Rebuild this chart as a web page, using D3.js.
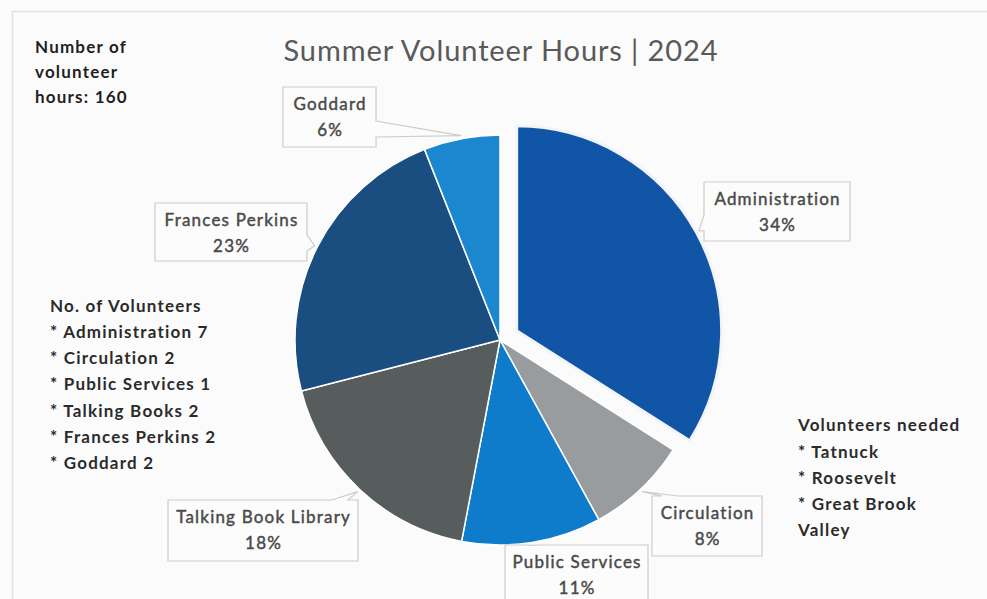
<!DOCTYPE html>
<html>
<head>
<meta charset="utf-8">
<script src="https://cdn.jsdelivr.net/npm/d3@7"></script>
<style>
  html, body { margin: 0; padding: 0; background: #fbfbfb; }
  svg { display: block; }
  text { font-family: Lato, "Open Sans", sans-serif; }
</style>
</head>
<body>
<svg id="chart" width="987" height="599"></svg>
<script>
// Share of summer volunteer hours by location (percent)
const categories = ["Administration", "Circulation", "Public Services", "Talking Book Library", "Frances Perkins", "Goddard"];
const percentages = [34, 8, 11, 18, 23, 6];
const colors = ["#1155a6", "#999c9f", "#0f7bcb", "#575c5d", "#1a4d80", "#1a87cf"];
const explodedCategory = "Administration";

const titleText = "Summer Volunteer Hours | 2024";
const totalHoursLines = ["Number of", "volunteer", "hours: 160"];
const volunteerCountHeading = "No. of Volunteers";
const volunteerCountNames = ["Administration", "Circulation", "Public Services", "Talking Books", "Frances Perkins", "Goddard"];
const volunteerCounts = [7, 2, 1, 2, 2, 2];
const neededHeading = "Volunteers needed";
const neededLines = ["* Tatnuck", "* Roosevelt", "* Great Brook", "Valley"];

// Callout box placement for each slice label
const calloutLayout = {
  "Administration":       { x: 704, y: 182, w: 146, h: 59, side: "left" },
  "Circulation":          { x: 652, y: 496, w: 110, h: 60, side: "top" },
  "Public Services":      { x: 505, y: 545, w: 143, h: 62, side: "top" },
  "Talking Book Library": { x: 168, y: 500, w: 190, h: 61, side: "top" },
  "Frances Perkins":      { x: 155, y: 203, w: 152, h: 58, side: "right" },
  "Goddard":              { x: 283, y: 87,  w: 93,  h: 60, side: "right" }
};

const svg = d3.select("#chart");
const W = 987, H = 599;

// frame lines
svg.append("line").attr("x1", 12.5).attr("x2", 12.5).attr("y1", 11).attr("y2", H)
  .attr("stroke", "#e0e0e0").attr("stroke-width", 1.5);
svg.append("line").attr("x1", 12).attr("x2", W).attr("y1", 11.5).attr("y2", 11.5)
  .attr("stroke", "#e0e0e0").attr("stroke-width", 1.5);

// title
svg.append("text").attr("x", 501).attr("y", 61).attr("text-anchor", "middle")
  .attr("font-size", 29).attr("letter-spacing", 0.9).attr("fill", "#595959").text(titleText);

// pie
const cx = 500, cy = 340, r = 205, explodeDist = 19;
const data = categories.map((c, i) => ({ name: c, value: percentages[i], color: colors[i] }));
const pie = d3.pie().sort(null).value(d => d.value).startAngle(0).endAngle(2 * Math.PI);
const arcs = pie(data);
const arc = d3.arc().innerRadius(0).outerRadius(r);

const g = svg.append("g").attr("transform", `translate(${cx},${cy})`);

function offsetOf(a) {
  if (a.data.name !== explodedCategory) return [0, 0];
  const mid = (a.startAngle + a.endAngle) / 2;
  return [Math.sin(mid) * explodeDist, -Math.cos(mid) * explodeDist];
}

g.selectAll("path.slice").data(arcs).join("path")
  .attr("class", "slice")
  .attr("d", arc)
  .attr("transform", a => `translate(${offsetOf(a)})`)
  .attr("fill", a => a.data.color)
  .attr("stroke", a => a.data.name === explodedCategory ? "#f2f4f8" : "#ffffff")
  .attr("stroke-width", a => a.data.name === explodedCategory ? 3 : 1.5)
  .attr("stroke-linejoin", "round");

// callouts
function calloutPath(b, ax, ay) {
  const x0 = b.x, y0 = b.y, x1 = b.x + b.w, y1 = b.y + b.h;
  const half = 8, m = 10;
  const clamp = (v, lo, hi) => Math.max(lo, Math.min(hi, v));
  let p = [];
  if (b.side === "top") {
    const c = clamp(ax, x0 + m + half, x1 - m - half);
    p = [[x0, y0], [c - half, y0], [ax, ay], [c + half, y0], [x1, y0], [x1, y1], [x0, y1]];
  } else if (b.side === "right") {
    const c = clamp(ay, y0 + m + half, y1 - m - half);
    p = [[x0, y0], [x1, y0], [x1, c - half], [ax, ay], [x1, c + half], [x1, y1], [x0, y1]];
  } else if (b.side === "left") {
    const c = clamp(ay, y0 + m + half, y1 - m - half);
    p = [[x0, y0], [x1, y0], [x1, y1], [x0, y1], [x0, c + half], [ax, ay], [x0, c - half]];
  } else {
    const c = clamp(ax, x0 + m + half, x1 - m - half);
    p = [[x0, y0], [x1, y0], [x1, y1], [c + half, y1], [ax, ay], [c - half, y1], [x0, y1]];
  }
  return "M" + p.map(q => q.map(v => v.toFixed(1)).join(",")).join("L") + "Z";
}

const calloutG = svg.append("g");
arcs.forEach(a => {
  const b = calloutLayout[a.data.name];
  const off = offsetOf(a);
  const mid = (a.startAngle + a.endAngle) / 2;
  const ax = cx + off[0] + Math.sin(mid) * (r + 3);
  const ay = cy + off[1] - Math.cos(mid) * (r + 3);
  calloutG.append("path")
    .attr("d", calloutPath(b, ax, ay))
    .attr("fill", "#fcfcfc")
    .attr("stroke", "#cccccc")
    .attr("stroke-width", 1.2);
  const tx = b.x + b.w / 2 + 0.6;
  const t = calloutG.append("text").attr("text-anchor", "middle")
    .attr("font-size", 17).attr("letter-spacing", 1.2).attr("fill", "#4a4a4a")
    .attr("stroke", "#4a4a4a").attr("stroke-width", 0.45);
  t.append("tspan").attr("x", tx).attr("y", b.y + 23).text(a.data.name);
  t.append("tspan").attr("x", tx).attr("y", b.y + 49).text(d3.format(".0%")(a.data.value / 100));
});

// side notes
const noteStyle = sel => sel.attr("font-size", 17).attr("font-weight", 700)
  .attr("letter-spacing", 1.2).attr("fill", "#2b2b2b");

totalHoursLines.forEach((s, i) => {
  svg.append("text").attr("x", 35).attr("y", 53 + i * 25).call(noteStyle).attr("fill", "#1f1f1f").text(s);
});

svg.append("text").attr("x", 50).attr("y", 312).call(noteStyle).text(volunteerCountHeading);
volunteerCountNames.forEach((n, i) => {
  svg.append("text").attr("x", 50).attr("y", 338 + i * 26.2).call(noteStyle)
    .text(`* ${n} ${volunteerCounts[i]}`);
});

svg.append("text").attr("x", 798).attr("y", 431).call(noteStyle).text(neededHeading);
neededLines.forEach((s, i) => {
  svg.append("text").attr("x", 798).attr("y", 458 + i * 26).call(noteStyle).text(s);
});
</script>
</body>
</html>
